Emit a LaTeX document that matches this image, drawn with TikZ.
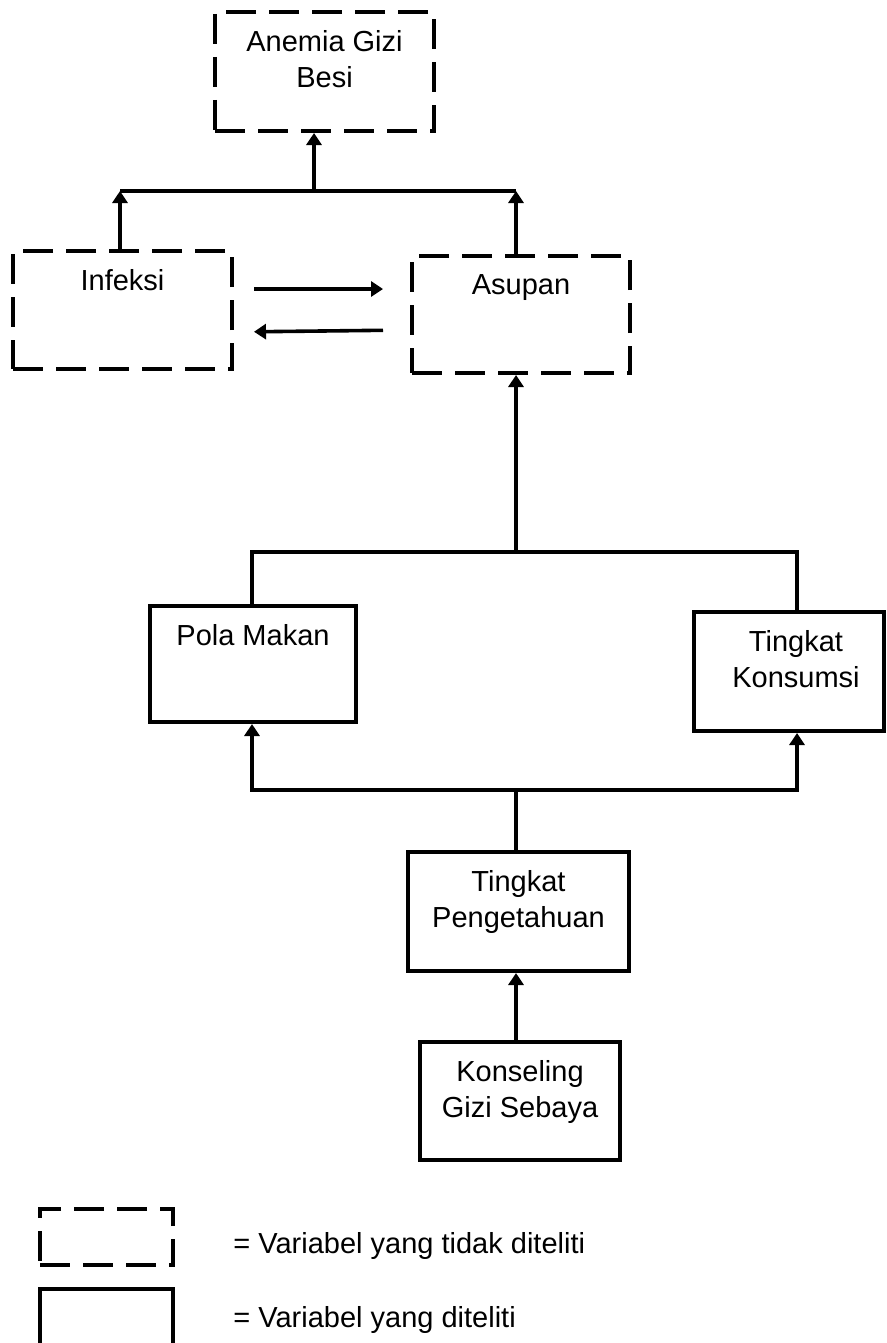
\documentclass[tikz,border=0pt]{standalone}
\usepackage{fontspec}
\setmainfont{Liberation Sans}
\usetikzlibrary{arrows.meta,positioning}

\begin{document}
\begin{tikzpicture}[x=0.5pt,y=-0.5pt,
        font=\fontsize{14.5}{18}\selectfont,
        solidbox/.style={draw, line width=2pt, inner sep=0pt},
        dashbox/.style={solidbox, dash pattern=on 15pt off 6.5pt},
        lab/.style={anchor=north, yshift=-10pt, align=center, inner sep=0pt},
        link/.style={line width=1.8pt},
        arr/.style={link, -{Triangle[length=6pt,width=7.5pt]}},
        legtxt/.style={anchor=base west, inner sep=0pt}]
    \useasboundingbox (0,0) rectangle (887,1343);

    % variabel yang tidak diteliti
    \node[dashbox, minimum width=109.5pt, minimum height=59.5pt, label={[lab]north:Anemia Gizi\\Besi}] (anemia) at (324.5,71.5) {};
    \node[dashbox, minimum width=109.5pt, minimum height=59pt, label={[lab]north:Infeksi}] (infeksi) at (122.5,310) {};
    \node[dashbox, minimum width=109pt, minimum height=58.5pt, label={[lab]north:Asupan}] (asupan) at (521,314.5) {};

    % variabel yang diteliti
    \node[solidbox, minimum width=103pt, minimum height=58pt, label={[lab]north:Pola Makan}] (pola) at (253,664) {};
    \node[solidbox, minimum width=95pt, minimum height=59.5pt, label={[lab, xshift=3.5pt]north:Tingkat\\Konsumsi}] (konsumsi) at (789,671.5) {};
    \node[solidbox, minimum width=110.5pt, minimum height=59.5pt, label={[lab]north:Tingkat\\Pengetahuan}] (pengetahuan) at (518.5,911.5) {};
    \node[solidbox, minimum width=100pt, minimum height=59pt, label={[lab]north:Konseling\\Gizi Sebaya}] (konseling) at (520,1101) {};

    % titik cabang
    \coordinate (jA) at (314,191);
    \coordinate (jL) at (120,191);
    \coordinate (jR) at (516,191);
    \coordinate (uL) at (252,552);
    \coordinate (uM) at (516,552);
    \coordinate (uR) at (797,552);
    \coordinate (dL) at (252,790);
    \coordinate (dM) at (516,790);
    \coordinate (dR) at (797,790);

    \draw[link] (jL) -- (jR);
    \draw[arr] (jA) -- (jA |- anemia.south);
    \draw[arr] (jL |- infeksi.north) -- (jL);
    \draw[arr] (jR |- asupan.north) -- (jR);
    \draw[arr, shorten <=10pt, shorten >=13.5pt] (infeksi.east |- 0,289) -- (asupan.west |- 0,289);
    \draw[arr, shorten <=13.5pt, shorten >=10pt] (asupan.west |- 0,330) -- (infeksi.east |- 0,332);

    \draw[link] (pola.north -| uL) -- (uL) -- (uR) -- (konsumsi.north -| uR);
    \draw[arr] (uM) -- (uM |- asupan.south);

    \draw[link] (pengetahuan.north -| dM) -- (dM);
    \draw[arr] (dR) -- (dL) -- (dL |- pola.south);
    \draw[arr] (dL) -- (dR) -- (dR |- konsumsi.south);
    \draw[arr] (konseling.north -| dM) -- (dM |- pengetahuan.south);

    % keterangan
    \node[dashbox, minimum width=66.5pt, minimum height=28pt] (legdash) at (106.5,1237) {};
    \node[solidbox, minimum width=66.5pt, minimum height=28pt] (legsolid) at (106.5,1317) {};
    \node[legtxt] (legdashtxt) at (233,1253) {= Variabel yang tidak diteliti};
    \node[legtxt] (legsolidtxt) at (233,1327) {= Variabel yang diteliti};
\end{tikzpicture}
\end{document}
